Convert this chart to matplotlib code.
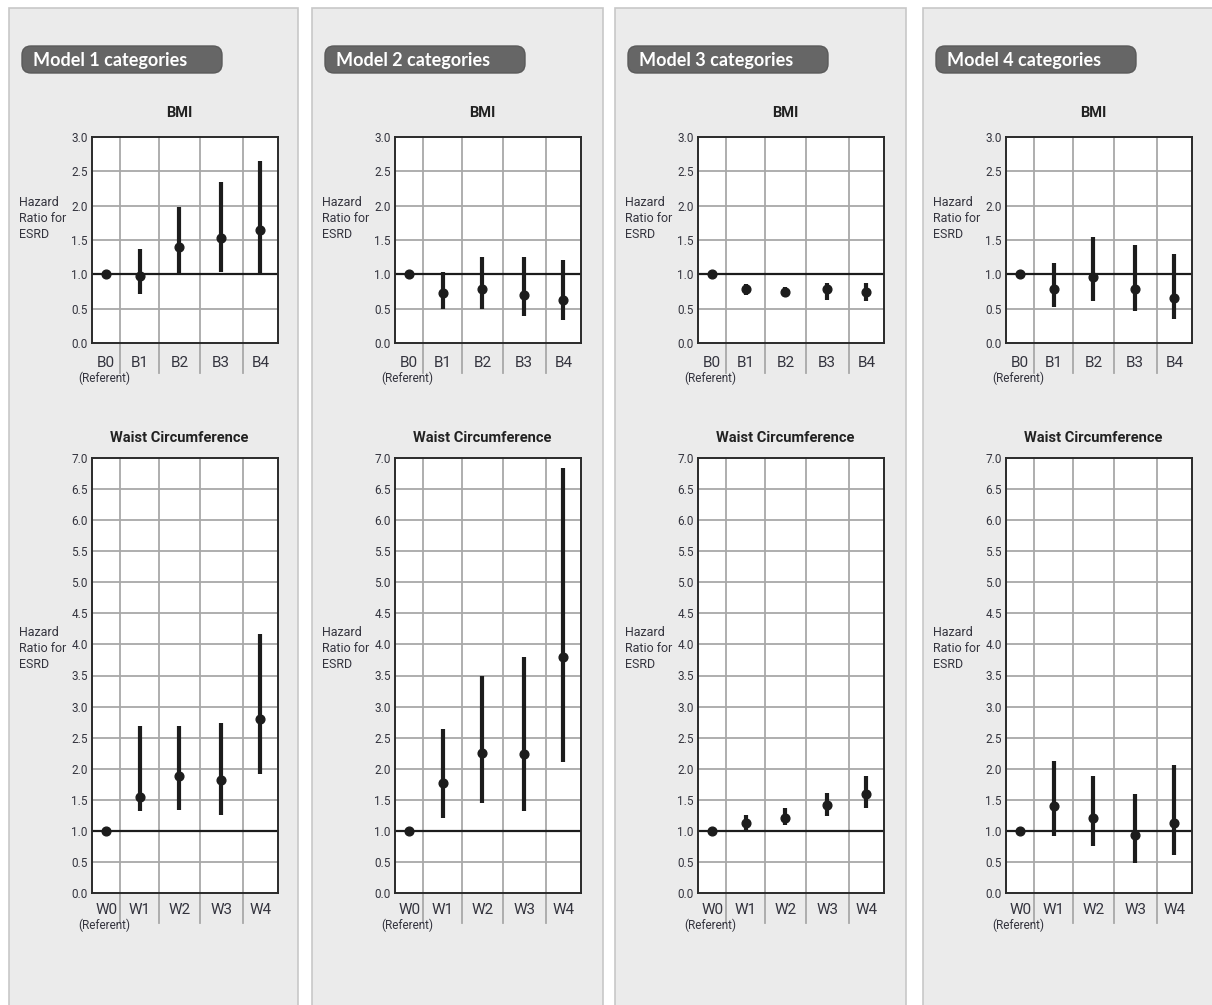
import matplotlib
matplotlib.use("Agg")
import matplotlib.pyplot as plt
from matplotlib.patches import Rectangle, FancyBboxPatch
import numpy as np

# ---- data ----
models = ["Model 1 categories", "Model 2 categories",
          "Model 3 categories", "Model 4 categories"]
bmi_cats = ["B0", "B1", "B2", "B3", "B4"]
waist_cats = ["W0", "W1", "W2", "W3", "W4"]

# hazard ratio, lower CI, upper CI  (referent has no interval)
bmi_hr = [[1.0, 0.98, 1.40, 1.53, 1.65],
          [1.0, 0.73, 0.79, 0.70, 0.63],
          [1.0, 0.78, 0.74, 0.79, 0.74],
          [1.0, 0.79, 0.96, 0.79, 0.65]]
bmi_lo = [[1.0, 0.71, 0.99, 1.04, 1.02],
          [1.0, 0.49, 0.50, 0.40, 0.33],
          [1.0, 0.70, 0.67, 0.62, 0.61],
          [1.0, 0.52, 0.61, 0.47, 0.35]]
bmi_hi = [[1.0, 1.37, 1.98, 2.34, 2.65],
          [1.0, 1.03, 1.25, 1.25, 1.21],
          [1.0, 0.86, 0.81, 0.87, 0.88],
          [1.0, 1.17, 1.54, 1.43, 1.30]]

waist_hr = [[1.0, 1.55, 1.89, 1.82, 2.80],
            [1.0, 1.77, 2.25, 2.23, 3.79],
            [1.0, 1.12, 1.21, 1.41, 1.60],
            [1.0, 1.40, 1.21, 0.93, 1.13]]
waist_lo = [[1.0, 1.32, 1.34, 1.25, 1.91],
            [1.0, 1.20, 1.45, 1.32, 2.11],
            [1.0, 1.02, 1.09, 1.24, 1.36],
            [1.0, 0.91, 0.75, 0.48, 0.61]]
waist_hi = [[1.0, 2.69, 2.69, 2.74, 4.16],
            [1.0, 2.64, 3.49, 3.79, 6.84],
            [1.0, 1.25, 1.36, 1.61, 1.89],
            [1.0, 2.13, 1.88, 1.59, 2.06]]

# ---- layout (pixels) ----
W, H = 1212, 1005
NARROW = ["Roboto", "DejaVu Sans"]
TXT = "#34343e"
GRID = "#a8a8a8"
INK = "#1c1c1c"

panel_left = [9, 312, 615, 923]
panel_w = [289, 291, 291, 300]
edges = np.array([0, 0.76, 1.81, 2.89, 4.05, 5.0])   # column boundaries
centers = (edges[:-1] + edges[1:]) / 2

fig = plt.figure(figsize=(W / 100, H / 100), dpi=100)
fig.patch.set_facecolor("white")
bg = fig.add_axes([0, 0, 1, 1])
bg.set_xlim(0, W)
bg.set_ylim(H, 0)
bg.axis("off")


def add_px_axes(x0, y0, x1, y1):
    return fig.add_axes([x0 / W, 1 - y1 / H, (x1 - x0) / W, (y1 - y0) / H])


def draw_chart(ax, cats, hr, lo, hi, ymax, title, h_px, title_gap, lab_gap):
    ax.set_xlim(0, 5)
    ax.set_ylim(0, ymax)
    ax.set_facecolor("white")
    for y in np.arange(0.5, ymax, 0.5):
        ax.axhline(y, color=GRID, lw=1.3, zorder=1)
    ax.axhline(1.0, color=INK, lw=1.6, zorder=2)
    for e in edges[1:-1]:
        ax.axvline(e, ymin=-30 / h_px, ymax=1, color=GRID, lw=1.3,
                   clip_on=False, zorder=1)
    ax.vlines(centers, lo, hi, color=INK, lw=3.0, zorder=3)
    ax.plot(centers, hr, "o", color=INK, ms=6.3, zorder=4)

    ax.set_xticks([])
    yt = np.arange(0, ymax + 0.01, 0.5)
    ax.set_yticks(yt)
    ax.set_yticklabels([f"{v:.1f}" for v in yt], family=NARROW,
                       fontsize=8.5, color=TXT)
    ax.tick_params(axis="y", length=0, pad=3)
    for s in ax.spines.values():
        s.set_color("#2a2a2a")
        s.set_linewidth(1.4)

    tr = ax.get_xaxis_transform()
    for i, c in enumerate(cats):
        ax.text(centers[i], -lab_gap / h_px, c, transform=tr, ha="center",
                va="center", family=NARROW, fontsize=11, color=TXT)
    ax.text(centers[0] - 0.05, -(lab_gap + 15) / h_px, "(Referent)",
            transform=tr, ha="center", va="center", family=NARROW,
            fontsize=8.5, color=TXT)
    ax.text(0.47, 1 + title_gap / h_px, title, transform=ax.transAxes,
            ha="center", va="center", family=NARROW, fontsize=10.5,
            fontweight="bold", color="#222222")


for m in range(4):
    pl = panel_left[m]
    bg.add_patch(Rectangle((pl, 8), panel_w[m], 1010, facecolor="#ebebeb",
                           edgecolor="#c8c8c8", lw=1.2))
    bg.add_patch(FancyBboxPatch((pl + 13, 46), 200, 27,
                                boxstyle="round,pad=0,rounding_size=9",
                                facecolor="#666666", edgecolor="#5a5a5a",
                                lw=1))
    bg.text(pl + 24, 60, models[m], ha="left", va="center", color="white",
            family=["Lato", "DejaVu Sans"], fontweight="bold", fontsize=13)

    # BMI
    ax1 = add_px_axes(pl + 83, 137, pl + 269, 343)
    draw_chart(ax1, bmi_cats, bmi_hr[m], bmi_lo[m], bmi_hi[m], 3.0,
               "BMI", 206, 24, 20)
    bg.text(pl + 10, 218, "Hazard\nRatio for\nESRD", ha="left", va="center",
            family=NARROW, fontsize=9, color=TXT, linespacing=1.3)

    # waist circumference
    ax2 = add_px_axes(pl + 83, 458, pl + 269, 893)
    draw_chart(ax2, waist_cats, waist_hr[m], waist_lo[m], waist_hi[m], 7.0,
               "Waist Circumference", 435, 20, 17)
    bg.text(pl + 10, 648, "Hazard\nRatio for\nESRD", ha="left", va="center",
            family=NARROW, fontsize=9, color=TXT, linespacing=1.3)

fig.savefig("out.png", dpi=100, facecolor="white")
